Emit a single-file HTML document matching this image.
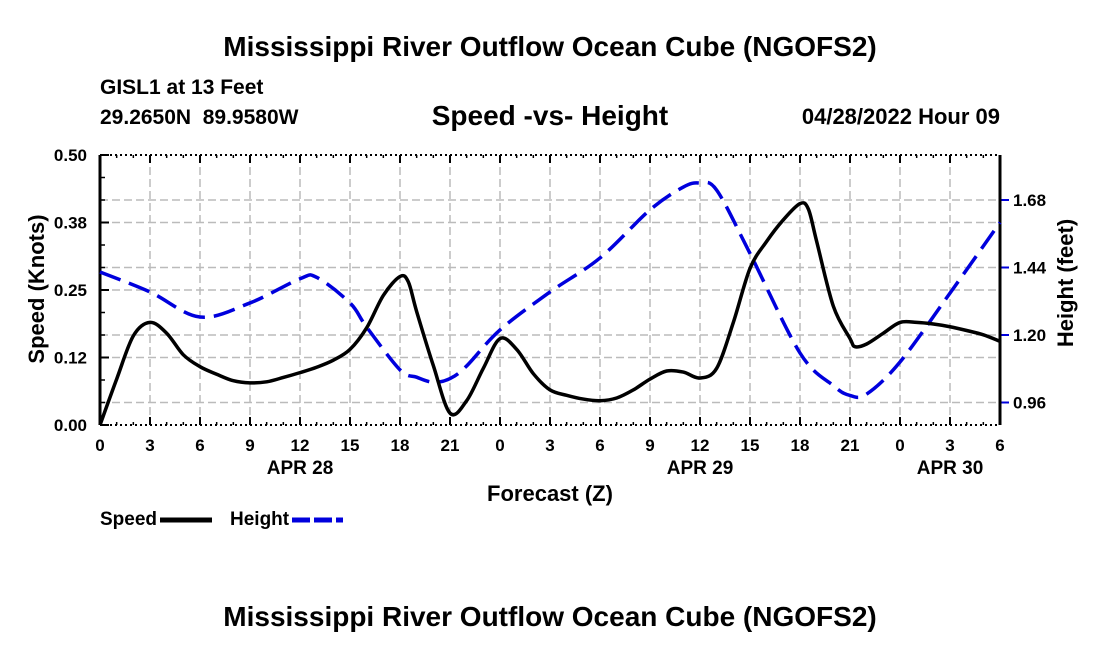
<!DOCTYPE html>
<html><head><meta charset="utf-8"><style>
body{margin:0;background:#fff;width:1100px;height:650px;overflow:hidden;font-family:"Liberation Sans",sans-serif}
svg text{font-family:"Liberation Sans",sans-serif;font-weight:bold;fill:#000;white-space:pre}
</style></head><body>
<svg id="c" width="1100" height="650">
<text x="550" y="56" font-size="28" text-anchor="middle">Mississippi River Outflow Ocean Cube (NGOFS2)</text>
<text x="100" y="94" font-size="21">GISL1 at 13 Feet</text>
<text x="100" y="124" font-size="21">29.2650N  89.9580W</text>
<text x="550" y="125" font-size="28" text-anchor="middle">Speed -vs- Height</text>
<text x="1000" y="124" font-size="22" text-anchor="end">04/28/2022 Hour 09</text>
<g id="grid"></g>
<g id="axes"></g>
<g id="series"></g>
<text x="550" y="501" font-size="22" text-anchor="middle">Forecast (Z)</text>
<text transform="translate(44,289) rotate(-90)" font-size="22" text-anchor="middle">Speed (Knots)</text>
<text transform="translate(1073,283) rotate(-90)" font-size="22" text-anchor="middle">Height (feet)</text>
<g>
<text x="100" y="525" font-size="19">Speed</text>
<line x1="160" y1="520" x2="212" y2="520" stroke="#000" stroke-width="5"/>
<text x="230" y="525" font-size="19">Height</text>
<line x1="292" y1="520" x2="343" y2="520" stroke="#0000dd" stroke-width="5" stroke-dasharray="18,4"/>
</g>
<text x="550" y="626" font-size="28" text-anchor="middle">Mississippi River Outflow Ocean Cube (NGOFS2)</text>
</svg>
<script>
const speedHours=[0,1,2,3,4,5,6,7,8,9,10,11,12,13,14,15,16,17,18,18.5,19,20,21,22,23,24,25,26,27,28,29,30,31,32,33,34,35,36,37,38,39,40,41,42,42.5,43,44,45,45.3,46,47,48,49,50,51,52,53,54];
const speedValues=[0,0.085,0.165,0.19,0.17,0.13,0.108,0.094,0.082,0.078,0.08,0.088,0.097,0.107,0.12,0.14,0.18,0.24,0.275,0.265,0.21,0.11,0.022,0.045,0.105,0.16,0.14,0.095,0.065,0.055,0.048,0.045,0.05,0.065,0.085,0.1,0.098,0.087,0.105,0.19,0.29,0.34,0.38,0.41,0.4,0.34,0.22,0.16,0.145,0.15,0.17,0.19,0.19,0.187,0.182,0.175,0.167,0.155];
const heightHours=[0,3,6,9,12,13,15,16,18,19,20,21,22,24,27,30,33,35,36,37,39,42,44,45,46,48,51,54];
const heightValues=[1.424,1.353,1.264,1.314,1.4,1.405,1.314,1.228,1.076,1.05,1.032,1.045,1.09,1.218,1.353,1.474,1.645,1.726,1.74,1.715,1.49,1.136,1.02,0.985,0.99,1.104,1.349,1.6];
const xTickLabels=["0","3","6","9","12","15","18","21","0","3","6","9","12","15","18","21","0","3","6"];
const dayLabels=["APR 28","APR 29","APR 30"];
const dayHours=[12,36,51];
const leftTicks=[0,0.125,0.25,0.375,0.5];
const leftTickLabels=["0.00","0.12","0.25","0.38","0.50"];
const rightTicks=[0.96,1.2,1.44,1.68];
const rightTickLabels=["0.96","1.20","1.44","1.68"];
const X0=100,X1=1000,Y0=425,Y1=155;
const xs=h=>X0+(X1-X0)*h/54;
const yl=v=>Y0-(Y0-Y1)*v/0.5;
const yr=v=>Y0-(Y0-Y1)*(v-0.88)/0.96;
const NS="http://www.w3.org/2000/svg";
function mk(tag,attrs,parent){const e=document.createElementNS(NS,tag);for(const k in attrs)e.setAttribute(k,attrs[k]);parent.appendChild(e);return e;}
const grid=document.getElementById('grid'),axes=document.getElementById('axes'),series=document.getElementById('series');
for(let i=0;i<xTickLabels.length;i++){const x=xs(i*3);
 if(i>0&&i<18){const g=mk('line',{x1:x,x2:x,y1:Y1,y2:Y0,stroke:'#bbb','stroke-width':1.5,'stroke-dasharray':'8,4'},grid);
 }
 const t=mk('line',{x1:x,x2:x,y1:Y0,y2:Y0-8,stroke:'#000','stroke-width':2},axes);
 
 const t2=mk('line',{x1:x,x2:x,y1:Y1,y2:Y1+8,stroke:'#000','stroke-width':2},axes);
 
 const l=mk('text',{x:x,y:451,'font-size':17,'text-anchor':'middle'},axes);l.textContent=xTickLabels[i];
 }
for(let i=0;i<dayLabels.length;i++){const l=mk('text',{x:xs(dayHours[i]),y:474,'font-size':19,'text-anchor':'middle'},axes);l.textContent=dayLabels[i];
 }
const gridYs=leftTicks.slice(1,4).map(yl).concat(rightTicks.map(yr));
gridYs.forEach(y=>{const g=mk('line',{x1:X0,x2:X1,y1:y,y2:y,stroke:'#bbb','stroke-width':1.5,'stroke-dasharray':'8,4'},grid);
 });
for(let k=1;k<12;k++){const y=Y0-k*22.5;
 const m=mk('line',{x1:X0,x2:X0+5,y1:y,y2:y,stroke:'#000','stroke-width':1.5},axes);
 }
for(let h=0;h<=54;h++){[Y0,Y1].forEach(yy=>{const m=mk('line',{x1:xs(h),x2:xs(h),y1:yy,y2:yy+(yy===Y0?-3:3),stroke:'#000','stroke-width':1.5},axes);
 });}
for(let i=0;i<leftTicks.length;i++){const y=yl(leftTicks[i]);
 const t=mk('line',{x1:X0,x2:X0+9,y1:y,y2:y,stroke:'#000','stroke-width':2},axes);
 
 const l=mk('text',{x:87,y:y+6,'font-size':17,'text-anchor':'end'},axes);l.textContent=leftTickLabels[i];
 }
for(let i=0;i<rightTicks.length;i++){const y=yr(rightTicks[i]);
 const t=mk('line',{x1:X1,x2:X1+9,y1:y,y2:y,stroke:'#0000dd','stroke-width':2},axes);
 
 const l=mk('text',{x:1013,y:y+6,'font-size':17},axes);l.textContent=rightTickLabels[i];
 }
const frame=mk('path',{d:`M${X0},${Y1}H${X1}M${X0},${Y0}H${X1}`,stroke:'#000','stroke-width':2,'stroke-dasharray':'2,3',fill:'none'},axes);

const sides=mk('path',{d:`M${X0},${Y1}V${Y0}M${X1},${Y1}V${Y0}`,stroke:'#000','stroke-width':3,fill:'none'},axes);

function smooth(pts){let d=`M${pts[0][0]},${pts[0][1]}`;for(let i=0;i<pts.length-1;i++){const p0=pts[Math.max(0,i-1)],p1=pts[i],p2=pts[i+1],p3=pts[Math.min(pts.length-1,i+2)];
 d+=`C${p1[0]+(p2[0]-p0[0])/6},${p1[1]+(p2[1]-p0[1])/6} ${p2[0]-(p3[0]-p1[0])/6},${p2[1]-(p3[1]-p1[1])/6} ${p2[0]},${p2[1]}`;}return d;}
const hp=mk('path',{d:smooth(heightHours.map((h,i)=>[xs(h),yr(heightValues[i])])),stroke:'#0000dd','stroke-width':3.5,'stroke-dasharray':'22,9',fill:'none'},series);

const sp=mk('path',{d:smooth(speedHours.map((h,i)=>[xs(h),yl(speedValues[i])])),stroke:'#000','stroke-width':3.5,fill:'none','stroke-linejoin':'round'},series);

</script>
</body></html>
